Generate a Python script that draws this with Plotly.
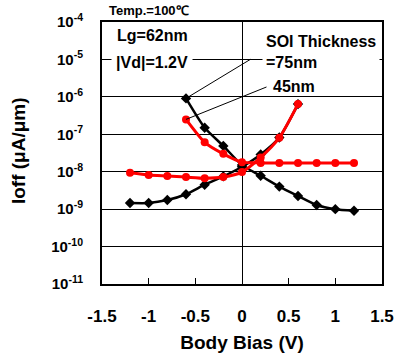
import math
import plotly.graph_objects as go

# Body bias values (V)
bias_a = [-0.6, -0.4, -0.2, 0.0, 0.2, 0.4, 0.6, 0.8, 1.0, 1.2]
bias_b = [-1.2, -1.0, -0.8, -0.6, -0.4, -0.2, 0.0, 0.2, 0.4, 0.6]

# SOI thickness = 75 nm (black)
ioff_75_a = [9.1e-7, 1.5e-7, 4.9e-8, 1.5e-8, 7.8e-9, 4.0e-9, 2.25e-9, 1.29e-9, 1.0e-9, 9.1e-10]
ioff_75_b = [1.46e-9, 1.46e-9, 1.75e-9, 2.5e-9, 4.5e-9, 7.5e-9, 1.36e-8, 2.9e-8, 8.2e-8, 6.4e-7]

# SOI thickness = 45 nm (red)
ioff_45_a = [2.5e-7, 6.1e-8, 3.0e-8, 1.8e-8, 1.72e-8, 1.71e-8, 1.71e-8, 1.71e-8, 1.71e-8, 1.71e-8]
ioff_45_b = [9.4e-9, 8.2e-9, 7.7e-9, 7.2e-9, 6.7e-9, 7.2e-9, 9.8e-9, 2.4e-8, 8.1e-8, 6.4e-7]

y_tickvals = [1e-11, 1e-10, 1e-9, 1e-8, 1e-7, 1e-6, 1e-5, 1e-4]
y_ticktext = ["10<sup>-11</sup>", "10<sup>-10</sup>", "10<sup>-9</sup>", "10<sup>-8</sup>",
              "10<sup>-7</sup>", "10<sup>-6</sup>", "10<sup>-5</sup>", "10<sup>-4</sup>"]
x_tickvals = [-1.5, -1, -0.5, 0, 0.5, 1, 1.5]
x_ticktext = ["-1.5", "-1", "-0.5", "0", "0.5", "1", "1.5"]

FONT = "Liberation Sans, Arial, sans-serif"

fig = go.Figure()

def add(x, y, color, symbol, width, size):
    fig.add_trace(go.Scatter(
        x=x, y=y, mode="lines+markers",
        line=dict(color=color, width=width, shape="spline", smoothing=0.6),
        marker=dict(color=color, symbol=symbol, size=size),
        showlegend=False, hoverinfo="skip"))

add(bias_a, ioff_75_a, "#000000", "diamond", 2.5, 8)
add(bias_b, ioff_75_b, "#000000", "diamond", 2.5, 8)
add(bias_a, ioff_45_a, "#FF0000", "circle", 3, 8)
add(bias_b, ioff_45_b, "#FF0000", "circle", 3, 8)

def txt(text, x, y, size, **kw):
    d = dict(text=text, xref="paper", yref="paper", x=x, y=y, showarrow=False,
             xanchor="center", yanchor="middle", font=dict(size=size, family=FONT, weight="bold"))
    d.update(kw)
    return d

annotations = [
    txt("Temp.=100℃", 0.168, 1.042, 13),
    txt("Lg=62nm", 0.179, 0.950, 16, bgcolor="white"),
    txt("|Vd|=1.2V", 0.179, 0.847, 16, bgcolor="white", borderpad=4),
    txt("SOI Thickness<br>=75nm", 0.572, 0.887, 16, xanchor="left", align="left",
        bgcolor="white", borderpad=3),
    txt("45nm", 0.684, 0.752, 16),
    # leader lines
    dict(text="", x=bias_a[0], y=math.log10(ioff_75_a[0]), xref="x", yref="y",
         showarrow=True, arrowhead=0, arrowwidth=1, arrowcolor="black",
         ax=66, ay=-40, standoff=0, startstandoff=0),
    dict(text="", x=bias_a[0], y=math.log10(ioff_45_a[0]), xref="x", yref="y",
         showarrow=True, arrowhead=0, arrowwidth=1, arrowcolor="black",
         ax=82, ay=-33, standoff=0, startstandoff=0),
    txt("Ioff (μA/μm)", -0.296, 0.508, 19, textangle=-90),
]

fig.update_layout(
    template="none",
    width=396, height=354,
    margin=dict(l=102, r=14, t=22, b=70, autoexpand=False),
    paper_bgcolor="white", plot_bgcolor="white",
    font=dict(family=FONT, color="black", weight="bold"),
    annotations=annotations,
    xaxis=dict(range=[-1.5, 1.5], tickvals=x_tickvals, ticktext=x_ticktext,
               automargin=False,
               ticks="inside", ticklen=6, tickwidth=1, tickcolor="black",
               showgrid=False, zeroline=True, zerolinecolor="black", zerolinewidth=1,
               showline=True, linecolor="black", linewidth=2, mirror=True,
               tickfont=dict(size=17, family=FONT, weight="bold"), ticklabelstandoff=16,
               title=dict(text="Body Bias (V)", font=dict(size=19, family=FONT, weight="bold"),
                          standoff=10)),
    yaxis=dict(type="log", range=[-11, -4], tickvals=y_tickvals, ticktext=y_ticktext,
               automargin=False,
               ticks="", showgrid=True, gridcolor="black", gridwidth=1,
               zeroline=False, showline=True, linecolor="black", linewidth=2, mirror=True,
               tickfont=dict(size=15, family=FONT, weight="bold"), ticklabelstandoff=14),
)

fig.write_html("out.html")
